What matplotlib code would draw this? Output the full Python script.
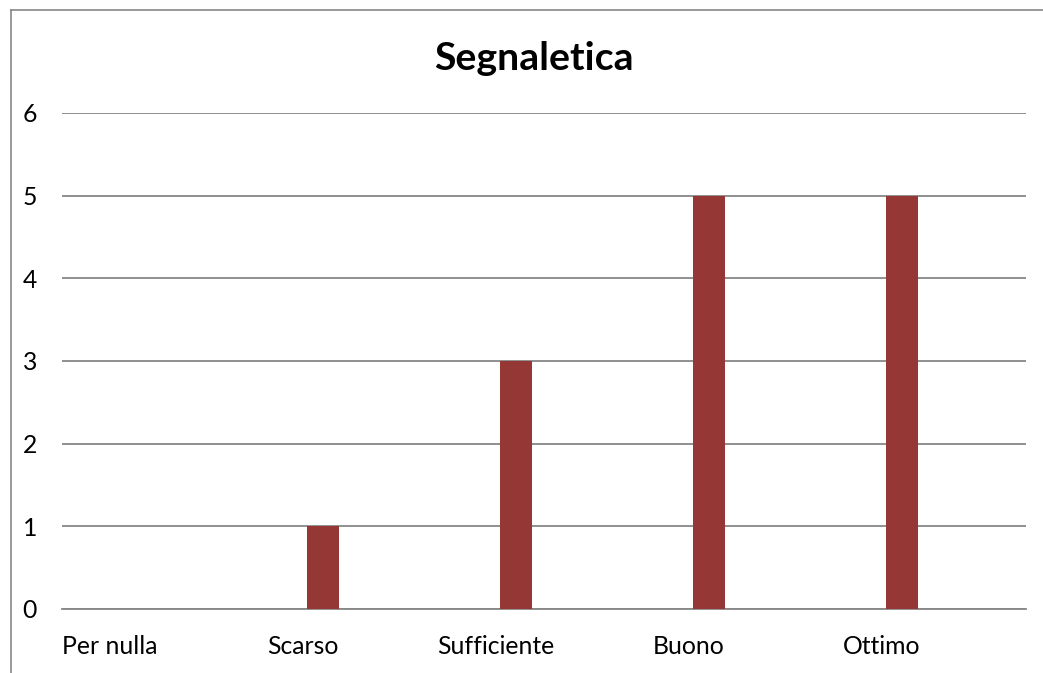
import matplotlib
matplotlib.use("Agg")
import matplotlib.pyplot as plt
from matplotlib.lines import Line2D
import numpy as np

plt.rcParams['font.family'] = ['Lato', 'DejaVu Sans']

categories = ["Per nulla", "Scarso", "Sufficiente", "Buono", "Ottimo"]
values = [0, 1, 3, 5, 5]
y_ticks = [0, 1, 2, 3, 4, 5, 6]

bar_color = "#953735"
grid_color = "#878787"

W, H, DPI = 1043, 673, 100
fig = plt.figure(figsize=(W / DPI, H / DPI), dpi=DPI)
fig.patch.set_facecolor("white")

ax = fig.add_axes([62 / W, (H - 609) / H, (1026 - 62) / W, (609 - 113) / H])

x = np.arange(len(categories))
ax.bar(x - 0.145, values, width=0.166, color=bar_color, zorder=3)

ax.set_xlim(-0.5, len(categories) - 0.5)
ax.set_ylim(0, 6)
ax.set_yticks(y_ticks)
ax.set_yticklabels([str(t) for t in y_ticks], fontsize=17.8)
ax.yaxis.grid(True, color=grid_color, linewidth=1.3, zorder=1)
ax.tick_params(axis='y', length=0, pad=18)

ax.set_xticks(x - 0.25)
ax.set_xticklabels(categories, fontsize=17.8)
ax.tick_params(axis='x', length=0, pad=19)

for side in ("top", "right", "left"):
    ax.spines[side].set_visible(False)
ax.spines["bottom"].set_color(grid_color)
ax.spines["bottom"].set_linewidth(1.3)

fig.text(534 / W, 1 - 58 / H, "Segnaletica", ha="center", va="center",
         fontsize=28.3, fontweight="bold")

# outer chart frame
fig.add_artist(Line2D([11 / W, 11 / W], [0, 1 - 10 / H], transform=fig.transFigure,
                      color=grid_color, linewidth=1.2))
fig.add_artist(Line2D([11 / W, 1], [1 - 10 / H, 1 - 10 / H], transform=fig.transFigure,
                      color=grid_color, linewidth=1.2))

fig.savefig("out.png", dpi=DPI)
